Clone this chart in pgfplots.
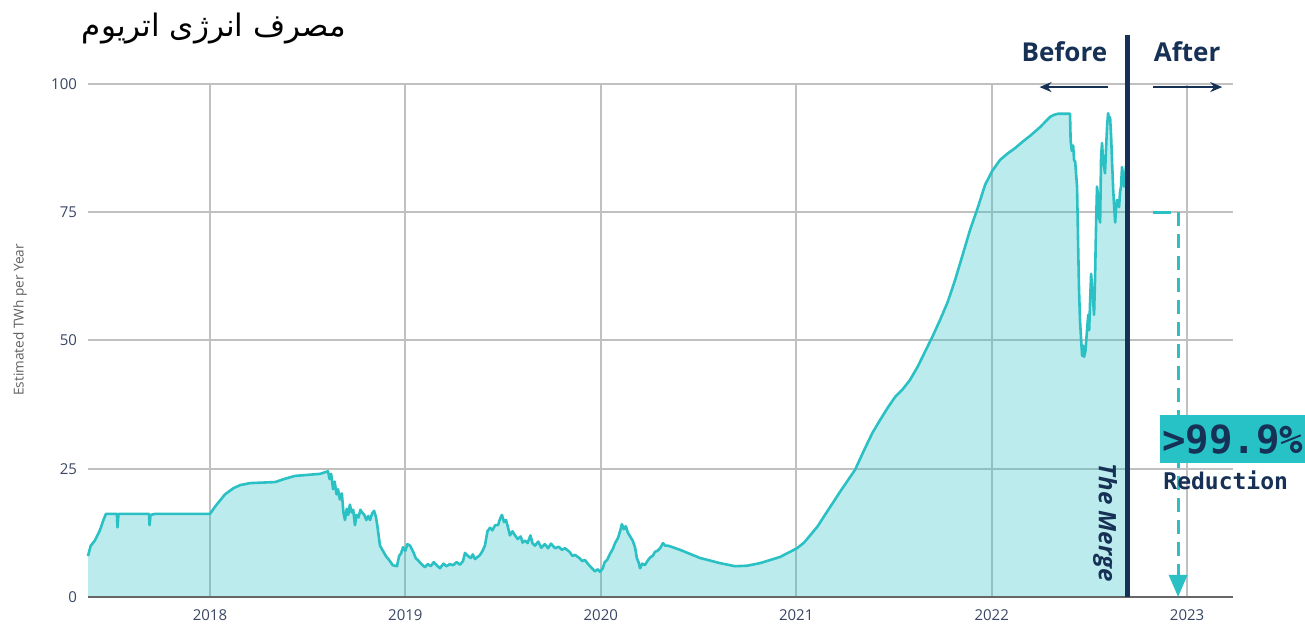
\documentclass[border=0pt]{standalone}
\usepackage{pgfplots}
\pgfplotsset{compat=1.18}
\usepackage{pgfplotstable}
\usepackage{fontspec}
\usetikzlibrary{arrows.meta}
\TeXXeTstate=1
\setmainfont{Open Sans}
\newfontfamily\arabicfont[Script=Arabic]{DejaVu Sans}
\newfontfamily\monofont{DejaVu Sans Mono}
\definecolor{linecol}{RGB}{43,192,196}
\definecolor{navy}{RGB}{22,48,86}
\definecolor{boxcol}{RGB}{38,194,198}
\definecolor{gridcol}{RGB}{192,192,192}
\definecolor{tickcol}{RGB}{58,70,100}
\pgfplotstableread{
x y
2017.376 8.0
2017.390 10.0
2017.411 11.0
2017.437 13.0
2017.455 15.0
2017.468 16.2
2017.524 16.2
2017.527 13.6
2017.532 16.2
2017.688 16.2
2017.691 14.0
2017.696 16.0
2017.720 16.2
2018.000 16.2
2018.030 17.8
2018.077 20.0
2018.120 21.2
2018.154 21.8
2018.205 22.2
2018.333 22.4
2018.380 23.0
2018.435 23.6
2018.563 24.0
2018.604 24.5
2018.612 23.0
2018.620 24.0
2018.630 21.0
2018.638 22.5
2018.648 20.0
2018.655 21.0
2018.665 19.0
2018.675 20.2
2018.683 16.5
2018.691 15.0
2018.700 17.2
2018.708 16.0
2018.716 18.0
2018.725 16.5
2018.733 17.0
2018.742 14.0
2018.750 16.0
2018.760 15.5
2018.770 17.0
2018.778 16.5
2018.790 16.0
2018.800 15.0
2018.810 15.8
2018.819 15.0
2018.830 16.3
2018.840 16.8
2018.850 15.5
2018.858 13.5
2018.870 10.0
2018.885 9.0
2018.900 8.0
2018.921 7.0
2018.935 6.2
2018.957 6.0
2018.968 8.0
2018.978 8.5
2018.988 9.7
2019.000 9.0
2019.010 10.3
2019.024 10.0
2019.040 8.8
2019.054 7.5
2019.064 7.2
2019.080 6.5
2019.100 5.8
2019.115 6.4
2019.130 6.0
2019.145 6.8
2019.160 6.2
2019.177 5.6
2019.195 6.5
2019.210 6.0
2019.228 6.4
2019.245 6.2
2019.262 6.8
2019.279 6.3
2019.295 7.0
2019.305 8.6
2019.320 8.0
2019.335 7.6
2019.345 8.3
2019.356 7.4
2019.370 7.8
2019.382 8.2
2019.395 9.0
2019.407 10.0
2019.420 12.8
2019.433 13.5
2019.445 13.0
2019.460 14.0
2019.474 14.0
2019.485 15.3
2019.494 16.0
2019.505 14.6
2019.515 15.0
2019.525 13.6
2019.535 12.0
2019.548 12.8
2019.561 12.0
2019.575 11.3
2019.590 11.8
2019.600 10.6
2019.612 11.0
2019.625 10.5
2019.640 12.0
2019.650 10.5
2019.663 10.0
2019.680 10.8
2019.695 9.6
2019.714 10.3
2019.730 9.5
2019.745 10.4
2019.766 9.5
2019.785 9.8
2019.800 9.2
2019.817 9.5
2019.840 8.8
2019.855 8.0
2019.868 8.2
2019.890 7.6
2019.905 7.0
2019.919 7.2
2019.935 6.4
2019.955 5.6
2019.970 5.0
2019.985 5.4
2019.996 4.9
2020.010 5.6
2020.020 6.8
2020.032 7.2
2020.050 8.6
2020.062 9.4
2020.073 10.5
2020.088 11.5
2020.100 13.0
2020.108 14.2
2020.118 13.2
2020.128 13.8
2020.139 12.5
2020.150 11.8
2020.163 11.0
2020.175 9.7
2020.185 7.5
2020.193 6.8
2020.201 5.6
2020.212 6.5
2020.225 6.2
2020.242 7.2
2020.255 7.8
2020.266 8.0
2020.277 8.8
2020.290 9.0
2020.305 9.6
2020.318 10.5
2020.330 10.0
2020.344 10.0
2020.360 9.8
2020.405 9.2
2020.508 7.6
2020.610 6.6
2020.687 6.0
2020.750 6.1
2020.815 6.6
2020.917 7.8
2021.004 9.5
2021.040 10.6
2021.071 12.0
2021.110 13.8
2021.147 16.0
2021.190 18.5
2021.224 20.5
2021.260 22.5
2021.301 24.8
2021.352 29.0
2021.390 32.0
2021.429 34.5
2021.470 37.0
2021.506 39.0
2021.545 40.5
2021.582 42.3
2021.620 44.8
2021.659 47.8
2021.700 51.0
2021.736 54.0
2021.775 57.5
2021.813 61.8
2021.850 66.5
2021.889 71.5
2021.930 76.0
2021.966 80.3
2022.002 83.0
2022.043 85.2
2022.080 86.4
2022.120 87.5
2022.160 88.8
2022.197 89.9
2022.248 91.6
2022.299 93.6
2022.320 94.0
2022.340 94.2
2022.401 94.2
2022.404 89.0
2022.410 87.0
2022.417 88.0
2022.422 85.0
2022.427 85.0
2022.433 82.0
2022.437 80.0
2022.442 69.6
2022.447 60.0
2022.452 54.0
2022.458 50.0
2022.463 47.0
2022.468 49.0
2022.473 46.8
2022.480 48.0
2022.488 52.0
2022.494 55.0
2022.499 52.0
2022.504 58.0
2022.509 63.0
2022.514 60.0
2022.519 58.0
2022.524 55.0
2022.529 62.0
2022.534 72.0
2022.539 80.0
2022.545 78.0
2022.550 74.0
2022.555 73.0
2022.560 86.0
2022.565 88.5
2022.570 85.0
2022.575 84.0
2022.580 82.6
2022.586 88.0
2022.591 92.0
2022.596 94.3
2022.601 93.0
2022.606 93.5
2022.611 90.0
2022.616 85.0
2022.622 79.3
2022.627 76.0
2022.632 73.0
2022.637 76.0
2022.642 77.4
2022.647 77.0
2022.652 76.0
2022.657 79.0
2022.662 80.0
2022.667 83.8
2022.673 82.0
2022.678 80.0
2022.683 82.0
2022.688 84.2
2022.694 83.0
}\ethdata
\begin{document}
\begin{tikzpicture}
\useasboundingbox (0,0) rectangle (652.5pt,312pt);
\begin{axis}[
  at={(44pt,13.5pt)}, anchor=south west,
  scale only axis, width=572.5pt, height=256.5pt,
  xmin=2017.376, xmax=2023.235, ymin=0, ymax=100,
  clip=false,
  axis line style={draw=none},
  major tick length=0pt,
  xtick={2018,2019,2020,2021,2022,2023},
  ytick={0,25,50,75,100},
  grid=major,
  grid style={gridcol, line width=1pt},
  /pgf/number format/assume math mode=true,
  xticklabel style={/pgf/number format/1000 sep={}, font=\fontsize{7.5}{9}\selectfont, text=tickcol, yshift=-3pt},
  yticklabel style={font=\fontsize{7.5}{9}\selectfont, text=tickcol, xshift=-2pt},
]
\addplot[draw=none, fill=linecol, fill opacity=0.32] table[x=x,y=y]{\ethdata} \closedcycle;
\addplot[linecol, line width=1.3pt, line join=round] table[x=x,y=y]{\ethdata};
\draw[gray!80!black, line width=1pt] (axis cs:2017.376,0) -- (axis cs:2023.235,0);
% after merge
\draw[linecol, line width=1.6pt] (axis cs:2022.826,75) -- (axis cs:2022.92,75);
\draw[linecol, line width=1.6pt, dash pattern=on 7pt off 4pt, -{Triangle[width=9pt,length=11pt]}] (axis cs:2022.954,75) -- (axis cs:2022.954,0);
% merge line
\draw[navy, line width=2.6pt] (axis cs:2022.696,0) -- (axis cs:2022.696,109.6);
\node[rotate=-90, font=\fontsize{12}{14}\selectfont\bfseries\itshape, text=navy] at (axis cs:2022.58,14.5) {The Merge};
% before / after
\node[font=\fontsize{13}{15}\selectfont\bfseries, text=navy] at (axis cs:2022.372,106.2) {Before};
\node[font=\fontsize{13}{15}\selectfont\bfseries, text=navy] at (axis cs:2023.0,106.2) {After};
\draw[navy, line width=1pt, -{Stealth[length=6pt,width=5pt]}] (axis cs:2022.596,99.4) -- (axis cs:2022.245,99.4);
\draw[navy, line width=1pt, -{Stealth[length=6pt,width=5pt]}] (axis cs:2022.826,99.4) -- (axis cs:2023.18,99.4);
\end{axis}
\begin{scope}[x=0.5pt,y=0.5pt]
% reduction box
\fill[boxcol] (1160,161) rectangle (1305,209);
\node[anchor=west, inner sep=0pt, font=\monofont\fontsize{19.5}{22}\selectfont\bfseries, text=navy] at (1162,184) {>99.9\%};
\node[anchor=west, inner sep=0pt, font=\monofont\fontsize{11.5}{13}\selectfont\bfseries, text=navy] at (1163,144) {Reduction};
% title
\node[font=\arabicfont\fontsize{15.5}{18}\selectfont, anchor=center] at (214,595) {\beginR مصرف انرژی اتریوم\endR};
% y label
\node[rotate=90, font=\fontsize{6.8}{8}\selectfont, text=gray!75!black] at (20,304) {Estimated TWh per Year};
\end{scope}
\end{tikzpicture}
\end{document}
